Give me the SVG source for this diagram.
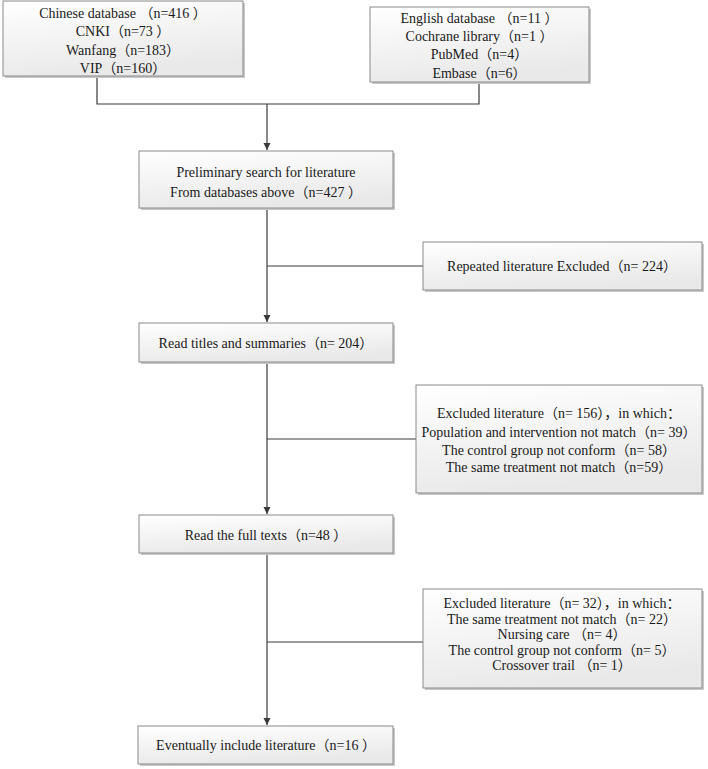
<svg xmlns="http://www.w3.org/2000/svg" width="708" height="769" viewBox="0 0 708 769">
<defs>
<linearGradient id="g" x1="0" y1="0" x2="0.3" y2="1">
<stop offset="0" stop-color="#ffffff"/>
<stop offset="1" stop-color="#e9e9e9"/>
</linearGradient>
<marker id="ah" markerWidth="8" markerHeight="8" refX="7" refY="4" orient="auto" markerUnits="userSpaceOnUse">
<path d="M0,0.5 L7,4 L0,7.5 Z" fill="#3a3a3a"/>
</marker>
</defs>
<style>
.sh{fill:#c8c8c8}
.bx{fill:url(#g);stroke:#8a8a8a;stroke-width:1}
.t{font-family:"Liberation Serif","Noto Sans CJK SC",serif;font-size:14px;fill:#1a1a1a;text-anchor:middle}
.ln{fill:none;stroke:#3a3a3a;stroke-width:1.2}
</style>
<g id="connectors">
<path class="ln" d="M97,76 V104 H479 V82"/>
<path class="ln" d="M267,104 V150" marker-end="url(#ah)"/>
<path class="ln" d="M267,208 V322" marker-end="url(#ah)"/>
<path class="ln" d="M267,266 H423"/>
<path class="ln" d="M267,362 V514" marker-end="url(#ah)"/>
<path class="ln" d="M267,439 H416"/>
<path class="ln" d="M267,553 V725" marker-end="url(#ah)"/>
<path class="ln" d="M267,642 H423"/>
</g>
<g id="chinese">
<rect class="sh" x="5" y="3" width="240" height="75"/>
<rect class="bx" x="3" y="1" width="240" height="75"/>
<text class="t" x="123" y="18">Chinese database （n=416 ）</text>
<text class="t" x="123" y="36">CNKI（n=73 ）</text>
<text class="t" x="123" y="54.5">Wanfang（n=183）</text>
<text class="t" x="123" y="73">VIP（n=160）</text>
</g>
<g id="english">
<rect class="sh" x="372" y="9" width="219" height="75"/>
<rect class="bx" x="370" y="7" width="219" height="75"/>
<text class="t" x="479.5" y="23">English  database （n=11 ）</text>
<text class="t" x="479.5" y="41">Cochrane library（n=1 ）</text>
<text class="t" x="479.5" y="59">PubMed（n=4）</text>
<text class="t" x="479.5" y="78">Embase（n=6）</text>
</g>
<g id="preliminary">
<rect class="sh" x="141" y="153" width="254" height="57"/>
<rect class="bx" x="139" y="151" width="254" height="57"/>
<text class="t" x="266" y="177">Preliminary search for literature</text>
<text class="t" x="266" y="197">From databases above（n=427 ）</text>
</g>
<g id="repeated">
<rect class="sh" x="425" y="244" width="279" height="48"/>
<rect class="bx" x="423" y="242" width="279" height="48"/>
<text class="t" x="562" y="271">Repeated literature Excluded（n= 224）</text>
</g>
<g id="titles">
<rect class="sh" x="141" y="325" width="254" height="39"/>
<rect class="bx" x="139" y="323" width="254" height="39"/>
<text class="t" x="266" y="348">Read titles and summaries（n= 204）</text>
</g>
<g id="excluded156">
<rect class="sh" x="418" y="387" width="286" height="108"/>
<rect class="bx" x="416" y="385" width="286" height="108"/>
<text class="t" x="559" y="418">Excluded literature（n= 156），in which：</text>
<text class="t" x="559" y="437">Population and intervention not match（n= 39）</text>
<text class="t" x="559" y="455">The control group not conform（n= 58）</text>
<text class="t" x="559" y="472">The same treatment not match（n=59）</text>
</g>
<g id="fulltexts">
<rect class="sh" x="141" y="517" width="254" height="38"/>
<rect class="bx" x="139" y="515" width="254" height="38"/>
<text class="t" x="266" y="540">Read the full texts（n=48 ）</text>
</g>
<g id="excluded32">
<rect class="sh" x="425" y="591" width="279" height="99"/>
<rect class="bx" x="423" y="589" width="279" height="99"/>
<text class="t" x="562" y="608">Excluded literature（n= 32），in which：</text>
<text class="t" x="562" y="624">The same treatment not match（n= 22）</text>
<text class="t" x="562" y="639">Nursing care （n= 4）</text>
<text class="t" x="562" y="655">The control group not conform（n= 5）</text>
<text class="t" x="562" y="670">Crossover trail （n= 1）</text>
</g>
<g id="eventually">
<rect class="sh" x="140" y="728" width="255" height="38"/>
<rect class="bx" x="138" y="726" width="255" height="38"/>
<text class="t" x="266" y="750">Eventually include literature（n=16 ）</text>
</g>
</svg>
